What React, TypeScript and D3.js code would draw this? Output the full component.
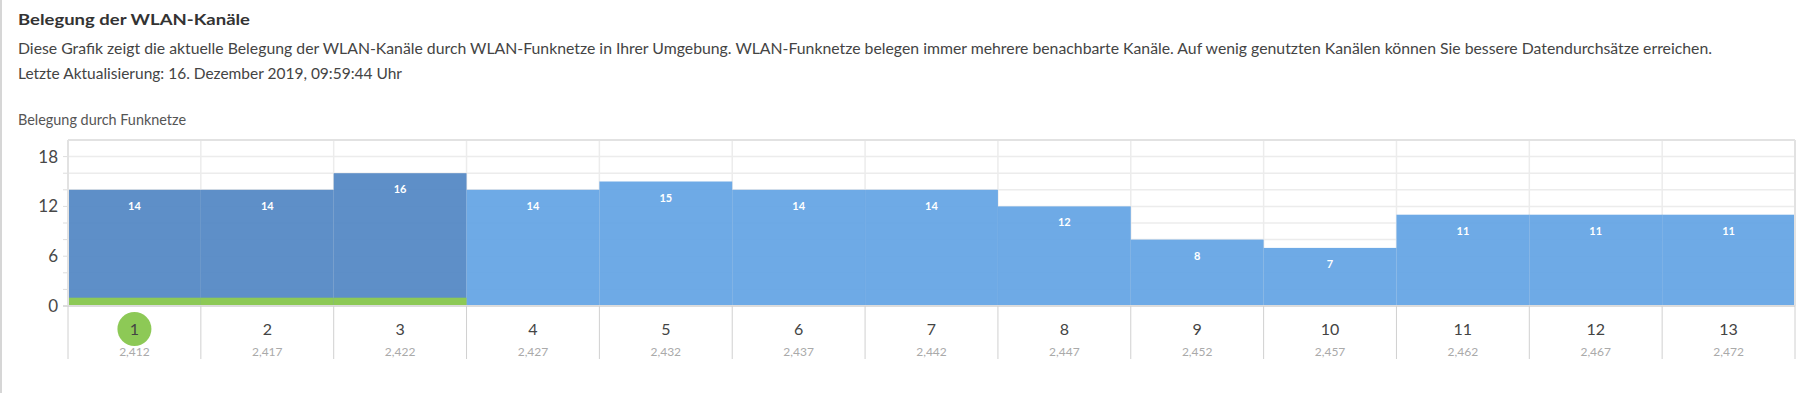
import React from 'react';
import * as d3 from 'd3';

const channels = ['1', '2', '3', '4', '5', '6', '7', '8', '9', '10', '11', '12', '13'];
const frequencies = ['2,412', '2,417', '2,422', '2,427', '2,432', '2,437', '2,442', '2,447', '2,452', '2,457', '2,462', '2,467', '2,472'];
const networks = [14, 14, 16, 14, 15, 14, 14, 12, 8, 7, 11, 11, 11];
const ownNetwork = [1, 1, 1, 0, 0, 0, 0, 0, 0, 0, 0, 0, 0];
const ownChannels = ['1', '2', '3'];
const activeChannel = '1';
const yTickLabels = [0, 6, 12, 18];
const yGrid = [2, 4, 6, 8, 10, 12, 14, 16, 18];

const title = 'Belegung der WLAN-Kanäle';
const description = 'Diese Grafik zeigt die aktuelle Belegung der WLAN-Kanäle durch WLAN-Funknetze in Ihrer Umgebung. WLAN-Funknetze belegen immer mehrere benachbarte Kanäle. Auf wenig genutzten Kanälen können Sie bessere Datendurchsätze erreichen.';
const updated = 'Letzte Aktualisierung: 16. Dezember 2019, 09:59:44 Uhr';
const chartTitle = 'Belegung durch Funknetze';

const W = 1816;
const H = 393;
const font = 'Lato, "Open Sans", sans-serif';

export default function App() {
    const x = d3.scaleBand().domain(channels).range([68, 1795]).padding(0);
    const y = d3.scaleLinear().domain([0, 20]).range([306, 140]);
    const bw = x.bandwidth();

    return (
        <svg width={W} height={H} style={{ position: 'absolute', left: 0, top: 0, background: '#fff' }}>
            <rect x={0} y={0} width={2} height={H} fill="#d6d6d6" />

            <text x={18} y={25} fontFamily={font} fontSize={16} fontWeight="bold" fill="#333" textLength={232} lengthAdjust="spacingAndGlyphs">{title}</text>
            <text x={18} y={54} fontFamily={font} fontSize={16} fill="#444" textLength={1694} lengthAdjust="spacingAndGlyphs">{description}</text>
            <text x={18} y={79} fontFamily={font} fontSize={16} fill="#444" textLength={384} lengthAdjust="spacingAndGlyphs">{updated}</text>
            <text x={18} y={125} fontFamily={font} fontSize={14.5} fill="#555" textLength={168} lengthAdjust="spacingAndGlyphs">{chartTitle}</text>

            {/* grid */}
            {yGrid.map(v => (
                <g key={'g' + v}>
                    <line x1={68} x2={1795} y1={y(v)} y2={y(v)} stroke="#ececec" strokeWidth={1.5} />
                    <line x1={63} x2={68} y1={y(v)} y2={y(v)} stroke="#ddd" />
                </g>
            ))}
            {channels.slice(1).map(c => (
                <line key={'v' + c} x1={x(c)} x2={x(c)} y1={140} y2={306} stroke="#ececec" strokeWidth={1.5} />
            ))}

            {/* bars */}
            {channels.map((c, i) => (
                <rect key={'b' + c} x={x(c)} y={y(networks[i])} width={bw} height={y(0) - y(networks[i])}
                    fill={ownChannels.includes(c) ? '#5286c4' : '#63a4e4'} fillOpacity={0.93} />
            ))}
            {channels.map((c, i) => ownNetwork[i] > 0 && (
                <rect key={'o' + c} x={x(c)} y={y(ownNetwork[i])} width={bw} height={y(0) - y(ownNetwork[i])} fill="#8dc956" />
            ))}
            {channels.map((c, i) => (
                <text key={'l' + c} x={x(c) + bw / 2} y={y(networks[i]) + 20} textAnchor="middle" fontFamily={font}
                    fontSize={11} fontWeight="bold" fill="#fff">{networks[i]}</text>
            ))}

            {/* frame */}
            <line x1={68} x2={1795} y1={140} y2={140} stroke="#e2e2e2" strokeWidth={2} />
            <line x1={68} x2={68} y1={140} y2={306} stroke="#e2e2e2" strokeWidth={2} />
            <line x1={1795} x2={1795} y1={140} y2={306} stroke="#e2e2e2" strokeWidth={2} />
            <line x1={63} x2={1795} y1={306} y2={306} stroke="#dcdcdc" strokeWidth={2} />

            {/* y labels */}
            {yTickLabels.map(v => (
                <text key={'y' + v} x={58} y={y(v)} dy="0.35em" textAnchor="end" fontFamily={font} fontSize={17} fill="#484848">{v}</text>
            ))}

            {/* x axis */}
            {channels.map((c, i) => (
                <g key={'x' + c}>
                    <line x1={x(c)} x2={x(c)} y1={306} y2={359} stroke="#d0d0d0" />
                    {c === activeChannel && <circle cx={x(c) + bw / 2} cy={329} r={17} fill="#8dc956" />}
                    <text x={x(c) + bw / 2} y={329} dy="0.35em" textAnchor="middle" fontFamily={font} fontSize={16} fill="#444">{c}</text>
                    <text x={x(c) + bw / 2} y={352} dy="0.35em" textAnchor="middle" fontFamily={font} fontSize={12} fill="#aaa">{frequencies[i]}</text>
                </g>
            ))}
            <line x1={1795} x2={1795} y1={306} y2={359} stroke="#d0d0d0" />
        </svg>
    );
}
